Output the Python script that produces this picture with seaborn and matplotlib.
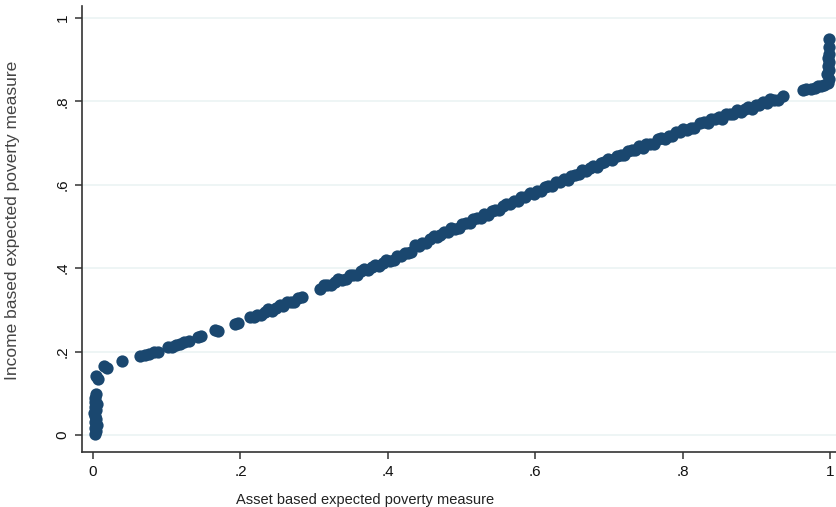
import matplotlib
matplotlib.use("Agg")
import matplotlib.pyplot as plt
import seaborn as sns
import pandas as pd

# ---- data ----
low_x = [.002, .004, .003, .005, .002, .004, .003, .001, .004, .003, .005, .002, .003, .004]
low_y = [.003, .010, .017, .024, .031, .038, .045, .052, .059, .066, .073, .080, .088, .097]

sparse_x = [.004, .007, .015, .019, .039, .064, .070, .076, .083, .088, .102, .107, .113, .118,
            .124, .130, .142, .146, .166, .170, .193, .197]
sparse_y = [.141, .135, .165, .160, .177, .190, .192, .195, .198, .200, .210, .212, .215, .218,
            .222, .226, .235, .237, .252, .250, .266, .268]

band_a_x = [.213, .218, .223, .228, .233, .238, .243, .248, .253, .258, .263, .268, .273, .278, .283]
band_a_y = [.283, .282, .288, .287, .296, .302, .298, .305, .312, .310, .320, .318, .320, .328, .330]

band_b_x = [.308, .313, .318, .323, .328, .333, .338, .343, .348, .353, .358, .363, .368, .373,
            .378, .383, .388, .393, .398, .403, .408, .413, .418, .423, .428, .432]
band_b_y = [.350, .359, .359, .359, .368, .374, .372, .374, .383, .384, .384, .393, .399, .396,
            .402, .408, .406, .413, .420, .417, .419, .429, .430, .437, .436, .440]

band_c_x = [.437, .442, .447, .452, .457, .462, .467, .471, .476, .481, .486, .491, .496, .501,
            .506, .511, .516, .521, .526, .531, .536, .541, .546, .551, .556, .561, .566, .571,
            .576, .581, .586, .593, .598, .603, .608, .613, .618, .623, .628, .634, .639, .644,
            .649, .654, .659, .664, .669, .674, .679, .684, .689, .694, .699, .704, .711, .716,
            .721, .726, .731, .736, .741, .746, .751, .756, .761, .766, .771, .776, .781, .786,
            .791, .796, .801, .806, .811, .816, .824, .829, .834, .839, .844, .849, .854, .859,
            .864, .869, .874, .879, .884, .889, .894, .899, .904, .909, .914, .919, .924, .929, .936]
band_c_y = [.455, .454, .461, .460, .470, .477, .474, .480, .487, .486, .496, .495, .497, .506,
            .508, .508, .518, .520, .521, .531, .528, .537, .539, .539, .550, .555, .553, .560,
            .560, .570, .570, .580, .578, .584, .584, .595, .597, .596, .607, .606, .613, .611,
            .622, .623, .625, .635, .632, .640, .646, .643, .653, .654, .663, .660, .670, .671,
            .671, .681, .683, .683, .693, .689, .698, .699, .698, .709, .713, .711, .717, .717,
            .726, .726, .734, .732, .737, .736, .749, .751, .749, .759, .757, .762, .759, .769,
            .769, .770, .779, .775, .782, .787, .783, .791, .791, .798, .796, .805, .804, .804, .813]

top_x = [.963, .968, .974, .979, .984, .988, .992,
         .997, .998, .996, .999, .997, .998, .997, .999, .998, .998]
top_y = [.827, .829, .831, .833, .836, .838, .840,
         .845, .855, .865, .875, .885, .895, .905, .915, .930, .950]

x_ticks = [0, .2, .4, .6, .8, 1]
x_tick_labels = ["0", ".2", ".4", ".6", ".8", "1"]
y_ticks = [0, .2, .4, .6, .8, 1]
y_tick_labels = ["0", ".2", ".4", ".6", ".8", "1"]

df = pd.DataFrame({
    "asset": low_x + sparse_x + band_a_x + band_b_x + band_c_x + top_x,
    "income": low_y + sparse_y + band_a_y + band_b_y + band_c_y + top_y,
})

# ---- figure ----
sns.set_theme(style="white")
plt.rcParams["font.family"] = ["Liberation Sans", "DejaVu Sans"]

W, H = 837, 507
fig = plt.figure(figsize=(W / 100, H / 100), dpi=100)
fig.patch.set_facecolor("white")
ax = fig.add_axes([82 / W, 1 - 452 / H, (837 - 82) / W, (452 - 6) / H])
ax.set_facecolor("white")

navy = "#1a476f"
sns.scatterplot(data=df, x="asset", y="income", ax=ax, color=navy,
                s=78, linewidth=0, edgecolor=navy, zorder=3)

ax.set_xlim(-0.015, 1.0095)
ax.set_ylim(-0.041, 1.029)

ax.set_xticks(x_ticks)
ax.set_xticklabels(x_tick_labels)
ax.set_yticks(y_ticks)
ax.set_yticklabels(y_tick_labels, rotation=90, va="center")

for y in y_ticks:
    ax.axhline(y, color="#eaf2f3", lw=1.1, zorder=1)

for side in ["top", "right"]:
    ax.spines[side].set_visible(False)
for side in ["left", "bottom"]:
    ax.spines[side].set_color("#333333")
    ax.spines[side].set_linewidth(1.2)

ax.tick_params(axis="both", which="major", direction="out", length=5, width=1.1,
               color="#333333", labelsize=11, labelcolor="#111111", pad=4)
ax.tick_params(axis="x", bottom=True)
ax.tick_params(axis="y", left=True)

ax.set_xlabel("Asset based expected poverty measure", fontsize=10.5, color="#222222")
ax.set_ylabel("Income based expected poverty measure", fontsize=12.5, color="#444444")
ax.xaxis.set_label_coords(0.375, -0.092)
ax.yaxis.set_label_coords(-0.082, 0.52)

fig.savefig("out.png", dpi=100, facecolor="white")
